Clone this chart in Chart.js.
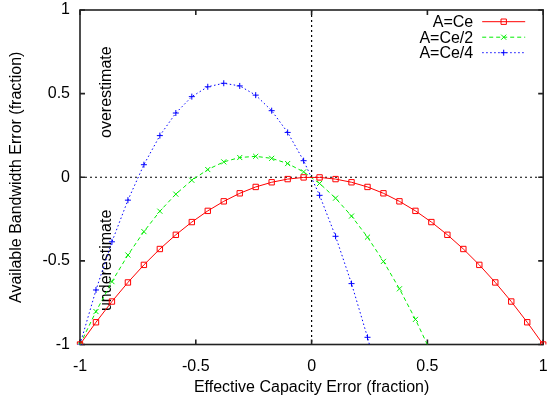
<!DOCTYPE html>
<html><head><meta charset="utf-8">
<script src="https://cdn.jsdelivr.net/npm/chart.js@4.4.1/dist/chart.umd.min.js"></script>
<style>html,body{margin:0;padding:0;background:#fff;}canvas{display:block;}</style>
</head><body>
<canvas id="c" width="548" height="399"></canvas>
<script>
// ---- data ----
const xValues = [-1, -0.931, -0.8621, -0.7931, -0.7241, -0.6552, -0.5862, -0.5172, -0.4483, -0.3793,
  -0.3103, -0.2414, -0.1724, -0.1034, -0.0345, 0.0345, 0.1034, 0.1724, 0.2414, 0.3103,
  0.3793, 0.4483, 0.5172, 0.5862, 0.6552, 0.7241, 0.7931, 0.8621, 0.931, 1];
const seriesNames = ['A=Ce', 'A=Ce/2', 'A=Ce/4'];
const yCe = [-1, -0.867, -0.743, -0.629, -0.524, -0.429, -0.344, -0.268, -0.201, -0.144,
  -0.096, -0.058, -0.030, -0.011, -0.001, -0.001, -0.011, -0.030, -0.058, -0.096,
  -0.144, -0.201, -0.268, -0.344, -0.429, -0.524, -0.629, -0.743, -0.867, -1];
const yCeHalf = [-1, -0.803, -0.624, -0.465, -0.325, -0.203, -0.101, -0.018, 0.046, 0.092,
  0.118, 0.125, 0.113, 0.082, 0.032, -0.037, -0.125, -0.232, -0.358, -0.503,
  -0.667, -0.850, -1.052];
const yCeQuarter = [-1, -0.674, -0.386, -0.137, 0.075, 0.249, 0.384, 0.482, 0.541, 0.562,
  0.546, 0.491, 0.398, 0.268, 0.099, -0.108, -0.353, -0.636, -0.957, -1.316];
const xTickValues = [-1, -0.5, 0, 0.5, 1];
const xTickLabels = ['-1', '-0.5', '0', '0.5', '1'];
const yTickValues = [-1, -0.5, 0, 0.5, 1];
const yTickLabels = ['-1', '-0.5', '0', '0.5', '1'];
const xTitle = 'Effective Capacity Error (fraction)';
const yTitle = 'Available Bandwidth Error (fraction)';
const noteTexts = ['overestimate', 'underestimate'];
const noteX = [-0.885, -0.885];
const noteY = [0.235, -0.80];

// ---- chart ----
const FONT = "'Liberation Sans', Arial, Helvetica, sans-serif";
Chart.defaults.font.family = FONT;
Chart.defaults.font.size = 16;
Chart.defaults.color = '#000';

function pts(ys) { return ys.map((y, i) => ({ x: xValues[i], y: y })); }

const styles = [
  { color: '#ff0000', dash: [], pointStyle: 'rect', radius: 3.8 },
  { color: '#00ee00', dash: [4, 3], pointStyle: 'crossRot', radius: 3.6 },
  { color: '#0000ff', dash: [1.5, 2.5], pointStyle: 'cross', radius: 3 }
];
const seriesData = [yCe, yCeHalf, yCeQuarter];

const datasets = seriesData.map((ys, i) => ({
  label: seriesNames[i],
  data: pts(ys),
  borderColor: styles[i].color,
  backgroundColor: 'rgba(0,0,0,0)',
  borderWidth: 1,
  borderDash: styles[i].dash,
  pointStyle: styles[i].pointStyle,
  pointRadius: styles[i].radius,
  pointHoverRadius: styles[i].radius,
  pointBorderColor: styles[i].color,
  pointBackgroundColor: 'rgba(0,0,0,0)',
  pointBorderWidth: 1,
  fill: false,
  tension: 0,
  clip: { left: 6, right: 6, top: 6, bottom: 0 }
}));

const decor = {
  id: 'decor',
  beforeDatasetsDraw(chart) {
    const { ctx, chartArea: a, scales: { x, y } } = chart;
    ctx.save();
    // zero lines
    ctx.strokeStyle = '#000';
    ctx.lineWidth = 1.2;
    ctx.setLineDash([2, 3]);
    const x0 = x.getPixelForValue(0), y0 = y.getPixelForValue(0);
    ctx.beginPath();
    ctx.moveTo(x0, a.top); ctx.lineTo(x0, a.bottom);
    ctx.moveTo(a.left, y0); ctx.lineTo(a.right, y0);
    ctx.stroke();
    ctx.setLineDash([]);
    // border
    ctx.strokeStyle = '#222';
    ctx.lineWidth = 1.6;
    ctx.strokeRect(a.left, a.top, a.right - a.left, a.bottom - a.top);
    // inward ticks
    const tl = 5;
    ctx.beginPath();
    xTickValues.forEach(v => {
      const px = x.getPixelForValue(v);
      ctx.moveTo(px, a.bottom); ctx.lineTo(px, a.bottom - tl);
      ctx.moveTo(px, a.top); ctx.lineTo(px, a.top + tl);
    });
    yTickValues.forEach(v => {
      const py = y.getPixelForValue(v);
      ctx.moveTo(a.left, py); ctx.lineTo(a.left + tl, py);
      ctx.moveTo(a.right, py); ctx.lineTo(a.right - tl, py);
    });
    ctx.stroke();
    // rotated notes
    ctx.fillStyle = '#000';
    ctx.font = '16px ' + FONT;
    ctx.textAlign = 'left';
    ctx.textBaseline = 'middle';
    noteTexts.forEach((t, i) => {
      ctx.save();
      ctx.translate(x.getPixelForValue(noteX[i]), y.getPixelForValue(noteY[i]));
      ctx.rotate(-Math.PI / 2);
      ctx.fillText(t, 0, 0);
      ctx.restore();
    });
    ctx.restore();
  },
  afterDatasetsDraw(chart) {
    const { ctx, chartArea: a } = chart;
    ctx.save();
    ctx.font = '16px ' + FONT;
    ctx.textAlign = 'right';
    ctx.textBaseline = 'alphabetic';
    chart.data.datasets.forEach((ds, i) => {
      const cy = a.top + 11.7 + i * 15.5;
      ctx.fillStyle = '#000';
      ctx.fillText(ds.label, a.right - 70, cy + 5.6);
      ctx.strokeStyle = ds.borderColor;
      ctx.lineWidth = 1;
      ctx.setLineDash(ds.borderDash);
      ctx.beginPath();
      ctx.moveTo(a.right - 61, cy); ctx.lineTo(a.right - 18, cy);
      ctx.stroke();
      ctx.setLineDash([]);
      ctx.fillStyle = 'rgba(0,0,0,0)';
      Chart.helpers.drawPoint(ctx, { pointStyle: ds.pointStyle, radius: ds.pointRadius, borderWidth: 1, rotation: 0 }, a.right - 39.5, cy);
    });
    ctx.restore();
  }
};

new Chart(document.getElementById('c'), {
  type: 'line',
  data: { datasets },
  options: {
    responsive: false,
    animation: false,
    devicePixelRatio: 1,
    layout: { padding: { left: 0, right: 2, top: 10, bottom: 0 } },
    plugins: { legend: { display: false }, tooltip: { enabled: false } },
    scales: {
      x: {
        type: 'linear', min: -1, max: 1,
        afterBuildTicks: s => { s.ticks = xTickValues.map(v => ({ value: v })); },
        afterFit: s => { s.height = 54.5; s.paddingLeft = 0; s.paddingRight = 0; },
        grid: { display: false, drawTicks: false },
        border: { display: false },
        ticks: { padding: 12, autoSkip: false, maxRotation: 0, color: '#000',
          callback: v => xTickLabels[xTickValues.indexOf(v)] },
        title: { display: true, text: xTitle, color: '#000', padding: { top: 0, bottom: 2 } }
      },
      y: {
        type: 'linear', min: -1, max: 1,
        afterBuildTicks: s => { s.ticks = yTickValues.map(v => ({ value: v })); },
        afterFit: s => { s.width = 80; s.paddingTop = 0; s.paddingBottom = 0; },
        grid: { display: false, drawTicks: false },
        border: { display: false },
        ticks: { padding: 10, autoSkip: false, color: '#000',
          callback: v => yTickLabels[yTickValues.indexOf(v)] },
        title: { display: true, text: yTitle, color: '#000', padding: { top: 6.5, bottom: 0 } }
      }
    }
  },
  plugins: [decor]
});
</script>
</body></html>
